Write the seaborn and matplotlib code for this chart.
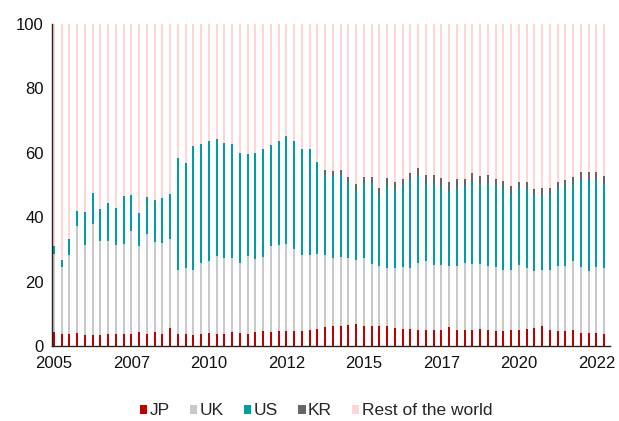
import numpy as np
import pandas as pd
import seaborn as sns
from matplotlib import pyplot as plt
from matplotlib.patches import Patch

quarters = [f"{y}Q{q}" for y in range(2005, 2023) for q in range(1, 5)]
tick_pos = [0, 10, 20, 30, 40, 50, 60, 70]
tick_labels = ['2005', '2007', '2010', '2012', '2015', '2017', '2020', '2022']

jp = [4.3, 3.6, 3.9, 4.1, 3.3, 3.3, 3.5, 3.6, 3.9, 3.9, 3.7, 4.3,
      3.7, 4.3, 3.9, 5.7, 3.7, 3.7, 3.4, 3.7, 4.1, 3.9, 3.9, 4.3,
      4.1, 3.9, 4.3, 4.6, 4.5, 4.6, 4.8, 4.8, 4.8, 5.0, 5.4, 5.8,
      6.1, 6.3, 6.5, 6.8, 6.2, 6.1, 6.1, 6.1, 5.7, 5.4, 5.4, 5.1,
      5.0, 4.9, 5.1, 5.8, 4.9, 5.1, 4.9, 5.4, 4.9, 4.8, 4.8, 5.1,
      5.1, 5.4, 5.5, 6.1, 5.1, 4.8, 4.8, 5.1, 4.2, 4.2, 4.2, 3.9]

# JP + UK
uk_top = [28.7, 24.5, 28.4, 37.2, 31.5, 37.9, 32.6, 32.6, 31.5, 31.8, 35.6, 31.0,
          34.9, 32.4, 32.1, 33.1, 23.5, 24.3, 23.7, 25.9, 26.5, 27.9, 27.4, 27.2,
          25.7, 28.1, 27.1, 27.8, 31.1, 31.3, 31.7, 30.1, 28.2, 28.4, 28.7, 28.2,
          27.2, 27.7, 27.4, 26.6, 27.4, 25.6, 24.9, 24.2, 24.2, 24.7, 24.3, 25.9,
          26.5, 25.2, 25.3, 24.8, 24.9, 25.8, 25.4, 25.6, 24.9, 24.4, 23.5, 23.7,
          25.1, 24.1, 23.4, 23.7, 23.7, 24.8, 24.9, 26.5, 24.7, 23.4, 24.4, 24.1]

# JP + UK + US
us_top = [31.0, 26.6, 33.1, 41.9, 41.6, 47.5, 42.6, 44.3, 42.8, 46.5, 47.0, 41.2,
          46.2, 45.2, 46.1, 47.3, 58.5, 56.9, 62.2, 62.7, 63.6, 64.3, 63.1, 62.7,
          59.9, 59.7, 59.9, 61.3, 62.3, 63.8, 65.3, 63.8, 61.1, 61.1, 57.1, 53.1,
          52.9, 53.1, 51.0, 48.4, 50.5, 50.5, 46.9, 49.6, 48.8, 50.0, 51.8, 52.7,
          50.4, 50.4, 49.4, 48.0, 49.0, 49.6, 51.0, 50.0, 50.7, 50.1, 48.9, 47.2,
          49.2, 48.7, 47.0, 46.7, 47.2, 48.8, 49.5, 50.4, 51.9, 51.7, 51.9, 50.3]

# KR share on its own (no data before 2013Q4)
kr = [0.0] * 35 + [1.7,
      1.5, 1.7, 1.5, 2.0, 2.1, 2.0, 2.3, 2.5, 2.2, 2.0, 2.0, 2.7,
      2.7, 2.8, 2.7, 2.9, 2.9, 2.3, 2.7, 2.7, 2.5, 1.9, 2.5, 2.4,
      1.6, 2.1, 1.8, 2.5, 2.0, 2.1, 2.2, 2.2, 2.0, 2.2, 2.3, 2.5]

df = pd.DataFrame({'quarter': quarters, 'jp': jp, 'uk_top': uk_top, 'us_top': us_top, 'kr': kr})
df['kr_top'] = df['us_top'] + df['kr']
df['total'] = 100.0

colors = {'JP': '#C00000', 'UK': '#C9C9C9', 'US': '#009E9E', 'KR': '#666666', 'Rest of the world': '#FFD5D5'}

sns.set_style('white')
plt.rcParams['font.family'] = ['Liberation Sans', 'DejaVu Sans']

fig = plt.figure(figsize=(6.19, 4.21), dpi=100)
ax = fig.add_axes([0.0845, 0.178, 0.9015, 0.765])

# stacked bars drawn back to front with cumulative heights
layers = [('total', 'Rest of the world'), ('kr_top', 'KR'), ('us_top', 'US'), ('uk_top', 'UK'), ('jp', 'JP')]
for col, name in layers:
    sns.barplot(data=df, x='quarter', y=col, color=colors[name], width=0.24,
                saturation=1, linewidth=0, ax=ax)

ax.set_xlim(-0.2, 71.8)
ax.set_ylim(0, 100)
ax.set_yticks(range(0, 101, 20))
ax.set_xticks(tick_pos)
ax.set_xticklabels(tick_labels)
ax.set_xlabel('')
ax.set_ylabel('')
ax.tick_params(axis='both', length=0, labelsize=12, colors='#111111')
ax.tick_params(axis='y', pad=6)
ax.tick_params(axis='x', pad=7)

sns.despine(ax=ax)
for side in ['left', 'bottom']:
    ax.spines[side].set_color('#222222')
    ax.spines[side].set_linewidth(1.0)

handles = [Patch(facecolor=colors[n], edgecolor='none', label=n)
           for n in ['JP', 'UK', 'US', 'KR', 'Rest of the world']]
fig.legend(handles=handles, loc='center', bbox_to_anchor=(0.511, 0.024), ncol=5,
           frameon=False, fontsize=12.5, handlelength=0.42, handleheight=0.42,
           handletextpad=0.15, columnspacing=1.15, borderpad=0)

fig.savefig('out.png', dpi=100)
